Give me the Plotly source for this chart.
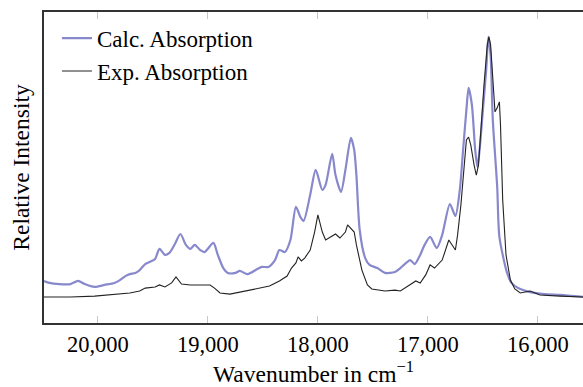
import plotly.graph_objects as go

# Calculated absorption spectrum (wavenumber in cm^-1, relative intensity)
calc_wn = [20490, 20440, 20350, 20250, 20180, 20120, 20030, 19940, 19850, 19800,
           19750, 19710, 19660, 19620, 19570, 19530, 19480, 19440, 19390, 19350,
           19300, 19250, 19200, 19160, 19120, 19070, 19030, 18950, 18910, 18860,
           18820, 18750, 18710, 18640, 18550, 18510, 18450, 18390, 18350, 18300,
           18250, 18200, 18160, 18130, 18070, 18020, 17960, 17930, 17870, 17840,
           17790, 17750, 17700, 17670, 17650, 17620, 17570, 17530, 17460, 17390,
           17300, 17250, 17210, 17160, 17120, 17070, 17030, 16980, 16920, 16870,
           16800, 16750, 16710, 16680, 16650, 16630, 16600, 16570, 16550, 16530,
           16500, 16470, 16450, 16430, 16410, 16370, 16350, 16280, 16240, 16180,
           16070, 15940, 15800, 15590]
calc_int = [0.147, 0.140, 0.136, 0.136, 0.147, 0.136, 0.126, 0.133, 0.140, 0.150,
            0.164, 0.171, 0.175, 0.185, 0.206, 0.213, 0.224, 0.259, 0.238, 0.245,
            0.276, 0.311, 0.273, 0.259, 0.273, 0.255, 0.248, 0.280, 0.238, 0.192,
            0.175, 0.175, 0.182, 0.171, 0.189, 0.196, 0.196, 0.220, 0.255, 0.248,
            0.290, 0.406, 0.371, 0.357, 0.448, 0.535, 0.465, 0.483, 0.591, 0.517,
            0.458, 0.535, 0.647, 0.605, 0.517, 0.325, 0.227, 0.203, 0.192, 0.175,
            0.178, 0.192, 0.206, 0.220, 0.206, 0.238, 0.273, 0.301, 0.262, 0.308,
            0.416, 0.374, 0.465, 0.605, 0.745, 0.822, 0.762, 0.605, 0.545, 0.605,
            0.745, 0.885, 1.000, 0.937, 0.710, 0.476, 0.301, 0.175, 0.140, 0.122,
            0.108, 0.101, 0.098, 0.091]

# Experimental absorption spectrum
exp_wn = [20490, 20250, 20030, 19890, 19710, 19620, 19570, 19480, 19440, 19390,
          19330, 19290, 19240, 19160, 19070, 18980, 18940, 18890, 18800, 18710,
          18620, 18530, 18440, 18350, 18280, 18240, 18200, 18180, 18150, 18120,
          18070, 18030, 18000, 17960, 17930, 17870, 17840, 17800, 17750, 17730,
          17690, 17670, 17650, 17600, 17550, 17510, 17390, 17300, 17250, 17160,
          17110, 17070, 17020, 16980, 16940, 16870, 16810, 16750, 16730, 16700,
          16670, 16650, 16630, 16610, 16580, 16560, 16540, 16520, 16490, 16460,
          16445, 16430, 16410, 16390, 16370, 16350, 16340, 16320, 16290, 16250,
          16210, 16160, 16070, 15980, 15800, 15590]
exp_int = [0.091, 0.091, 0.094, 0.098, 0.105, 0.112, 0.122, 0.126, 0.133, 0.126,
           0.140, 0.161, 0.136, 0.133, 0.133, 0.133, 0.122, 0.105, 0.101, 0.108,
           0.115, 0.122, 0.129, 0.147, 0.164, 0.192, 0.210, 0.231, 0.217, 0.227,
           0.255, 0.318, 0.378, 0.318, 0.290, 0.304, 0.311, 0.297, 0.318, 0.343,
           0.325, 0.318, 0.273, 0.185, 0.133, 0.119, 0.112, 0.115, 0.112, 0.133,
           0.147, 0.140, 0.168, 0.203, 0.192, 0.220, 0.290, 0.255, 0.308, 0.413,
           0.552, 0.640, 0.650, 0.622, 0.552, 0.517, 0.552, 0.675, 0.832, 0.972,
           1.000, 0.972, 0.867, 0.738, 0.752, 0.773, 0.692, 0.430, 0.238, 0.150,
           0.119, 0.105, 0.112, 0.098, 0.094, 0.091]

x_ticks = [20000, 19000, 18000, 17000, 16000]
x_tick_labels = ["20,000", "19,000", "18,000", "17,000", "16,000"]

FONT = "Liberation Serif"

fig = go.Figure()
fig.add_trace(go.Scatter(
    x=calc_wn, y=calc_int, mode="lines", name="Calc. Absorption",
    line=dict(color="#8888cc", width=2.2, shape="spline", smoothing=0.7),
    legendgroup="a"))
fig.add_trace(go.Scatter(
    x=exp_wn, y=exp_int, mode="lines", name="Exp. Absorption",
    line=dict(color="#222222", width=1.1),
    legendgroup="b"))

fig.update_layout(
    width=583, height=387,
    margin=dict(l=44, r=0, t=12, b=64),
    paper_bgcolor="white", plot_bgcolor="white",
    font=dict(family=FONT, size=22, color="black"),
    showlegend=True,
    legend=dict(x=0.024, y=0.985, xanchor="left", yanchor="top",
                bgcolor="rgba(0,0,0,0)", font=dict(family=FONT, size=23),
                itemwidth=30, traceorder="grouped", tracegroupgap=0),
    xaxis=dict(
        range=[20490, 15590], tickvals=x_ticks, ticktext=x_tick_labels,
        ticks="inside", ticklen=7, tickcolor="#c8c8c8", tickwidth=1,
        showline=True, linecolor="#333333", linewidth=1.5, mirror="ticks",
        showgrid=False, zeroline=False,
        tickfont=dict(family=FONT, size=22.5),
        title=dict(text="Wavenumber in cm<sup>−1</sup>", font=dict(family=FONT, size=23.5), standoff=6),
    ),
    yaxis=dict(
        range=[0, 1.087], showticklabels=False, ticks="",
        showline=True, linecolor="#333333", linewidth=1.5, mirror=False,
        showgrid=False, zeroline=False,
        title=dict(text="Relative Intensity", font=dict(family=FONT, size=23.5), standoff=6),
    ),
)

fig.write_html("out.html")
